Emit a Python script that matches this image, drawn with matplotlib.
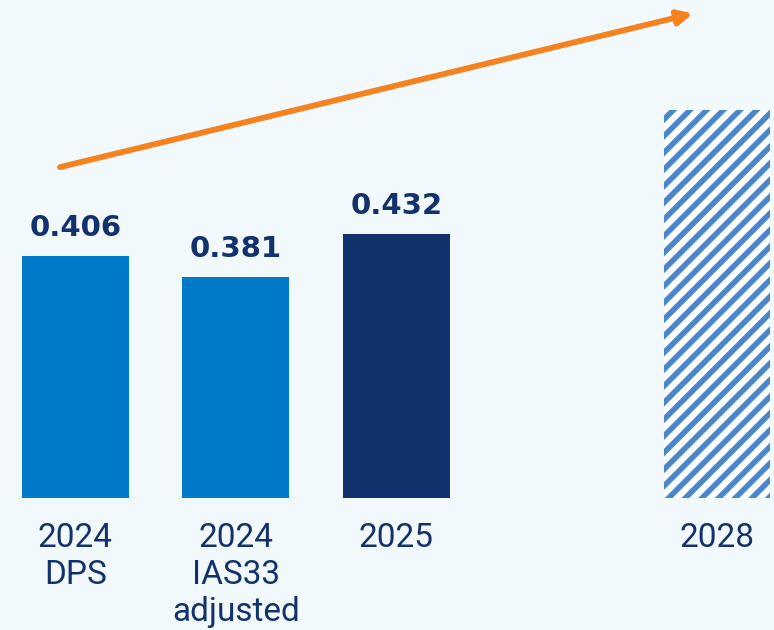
import matplotlib
matplotlib.use("Agg")
import matplotlib.pyplot as plt

# ---- data ----
categories = ["2024\nDPS", "2024\nIAS33\nadjusted", "2025", "2028"]
positions = [0, 1, 2, 4]
values = [0.406, 0.381, 0.432, 0.579]
value_labels = ["0.406", "0.381", "0.432", ""]
bar_colors = ["#0079C8", "#0079C8", "#12326E", "white"]
hatches = [None, None, None, "//"]

BG = "#F2F9FD"
NAVY = "#13316D"
ORANGE = "#F5821F"

plt.rcParams["hatch.linewidth"] = 4.0

fig = plt.figure(figsize=(7.74, 6.30), dpi=100, facecolor=BG)
ax = fig.add_axes([0, 132 / 630, 1, 498 / 630])
ax.set_facecolor(BG)

for p, v, c, h in zip(positions, values, bar_colors, hatches):
    if h:
        ax.bar(p, v, width=0.665, color=c, hatch=h, edgecolor="#4A86CC", linewidth=0)
    else:
        ax.bar(p, v, width=0.665, color=c, linewidth=0)

for p, v, t in zip(positions, values, value_labels):
    if t:
        ax.annotate(t, (p, v), xytext=(0, 14.5), textcoords="offset points",
                    ha="center", va="baseline", fontsize=21, fontweight="bold",
                    color=NAVY, family="DejaVu Sans")

for p, cat in zip(positions, categories):
    ax.annotate(cat, (p, 0), xycoords=("data", "axes fraction"),
                xytext=(0, -17), textcoords="offset points",
                ha="center", va="top", fontsize=24, color=NAVY,
                family="Roboto", linespacing=1.2)

ax.set_xlim(-0.47, 4.355)
ax.set_ylim(0.12, 0.709)

ax.annotate("", xy=(3.85, 0.693), xytext=(-0.096, 0.5113),
            arrowprops=dict(arrowstyle="-|>,head_length=0.85,head_width=0.42",
                            color=ORANGE, lw=4.2, shrinkA=0, shrinkB=0))

ax.axis("off")
fig.savefig("out.png", dpi=100, facecolor=BG)
